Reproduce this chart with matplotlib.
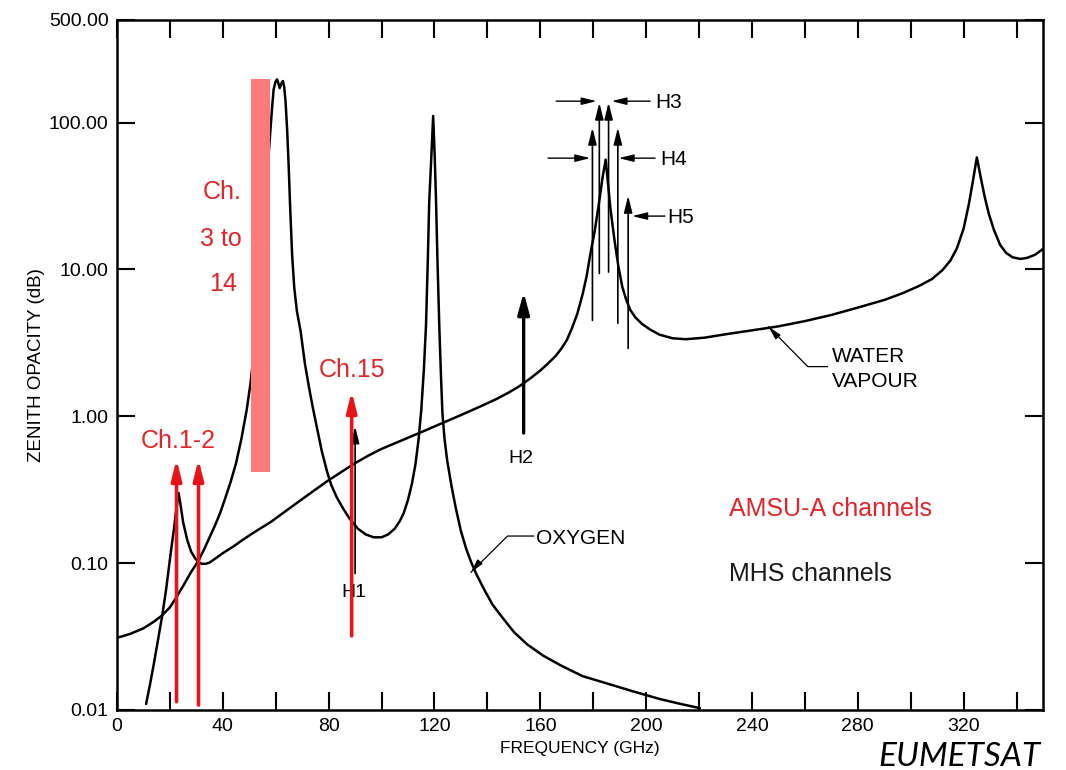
import matplotlib
matplotlib.use('Agg')
import matplotlib.pyplot as plt
from matplotlib.ticker import NullLocator

plt.rcParams['font.family'] = ['Liberation Sans', 'DejaVu Sans']

# ---------------- data ----------------
oxygen_freq = [0, 5, 10, 14, 17, 20, 22.3, 25, 28, 30.8, 33, 35, 37, 39, 41, 43, 45,
               47, 49, 50.5, 52, 54, 56, 57, 58, 58.6, 59.2, 59.9, 60.5, 61, 61.5,
               62.1, 62.7, 63.2, 63.7, 64.3, 64.9, 65.5, 66.2, 67, 68, 69.4, 71,
               72.5, 74, 75.5, 77.4, 79.4, 81, 83.1, 85.5, 88, 91, 94, 97, 100,
               102.5, 105, 107, 108.4, 110, 111.5, 112.8, 114, 115, 116, 116.8,
               117.5, 118, 118.8, 119.5, 120.1, 120.6, 121.1, 121.8, 122.4, 123,
               123.8, 124.8, 126.5, 128, 130, 132, 134, 136, 139, 142, 145.5, 150,
               155, 161, 168, 176, 185, 195, 205, 213, 220.3]
oxygen_val = [0.031, 0.033, 0.036, 0.040, 0.044, 0.050, 0.058, 0.070, 0.087, 0.104,
              0.125, 0.15, 0.18, 0.22, 0.28, 0.36, 0.48,
              0.7, 1.1, 1.7, 3.0, 7.0, 25, 50, 90, 125, 168, 190, 197, 185, 172,
              185, 192, 175, 140, 90, 50, 25, 12.5, 7.5, 5.2, 3.8, 2.3,
              1.6, 1.15, 0.85, 0.58, 0.42, 0.34, 0.28, 0.235, 0.20, 0.172, 0.157, 0.15, 0.15,
              0.157, 0.172, 0.195, 0.22, 0.27, 0.35, 0.47, 0.7, 1.1, 2.1, 4.2,
              12, 28.7, 58, 111, 58, 28.7, 12, 4.2, 2.0, 1.05,
              0.7, 0.5, 0.33, 0.24, 0.165, 0.125, 0.10, 0.083, 0.065, 0.052, 0.043, 0.034,
              0.028, 0.0235, 0.020, 0.017, 0.0152, 0.0134, 0.0119, 0.011, 0.0103]

water_freq = [11, 12.5, 14, 15.5, 17, 18.5, 19.5, 20.5, 21.5, 22.5, 23.3, 24, 25, 26.5,
              28, 29.5, 30.8, 32, 33.5, 35, 37, 40, 44, 48, 52, 58, 65, 72, 79.3, 85,
              90, 95, 100, 108, 115, 123, 130, 137, 143, 148, 152, 156, 160, 163, 166,
              168, 170, 172, 174, 176, 177.5, 179, 180.5, 182, 183.5, 184.7, 185.5,
              186.5, 188, 189.5, 191, 192.5, 194, 196, 198.5, 201.5, 205, 210, 215,
              222, 230, 240, 250, 260, 270, 280, 290, 297, 303, 308, 312, 315, 317.5,
              320, 322, 323.5, 325, 326.5, 328, 329.5, 331.5, 333.8, 336, 338.5,
              341.5, 344, 347, 350]
water_val = [0.011, 0.015, 0.021, 0.030, 0.043, 0.065, 0.09, 0.125, 0.17, 0.24, 0.30,
             0.25, 0.19, 0.145, 0.12, 0.108, 0.102, 0.099, 0.099, 0.101, 0.107, 0.117,
             0.13, 0.146, 0.163, 0.19, 0.235, 0.29, 0.36, 0.42, 0.48, 0.54, 0.60, 0.69,
             0.78, 0.90, 1.02, 1.16, 1.30, 1.45, 1.6, 1.8, 2.05, 2.3, 2.6, 2.9, 3.3,
             4.0, 5.0, 6.8, 9.0, 13, 18, 27, 42, 56, 40, 26, 16, 10.5, 7.6, 6.2, 5.3,
             4.7, 4.25, 3.9, 3.6, 3.4, 3.35, 3.43, 3.62, 3.85, 4.1, 4.45, 4.9, 5.5,
             6.2, 6.9, 7.7, 8.6, 9.9, 11.5, 14, 19, 28, 40, 58, 42, 31, 24, 18.5,
             14.7, 13.0, 12.1, 11.8, 12.0, 12.6, 13.8]

# AMSU-A channels (red)
amsu_arrow_freq = [22.5, 30.8, 88.7]
amsu_arrow_bottom = [0.0114, 0.0108, 0.032]
amsu_arrow_top = [0.51, 0.51, 1.48]
amsu_band_freq = [50.5, 58.0]          # Ch. 3 to 14
amsu_band_val = [0.42, 197]

# MHS channels (black)
mhs_names = ['H1', 'H2', 'H3', 'H3', 'H4', 'H4', 'H5']
mhs_freq = [90.0, 153.7, 182.3, 185.8, 179.7, 189.3, 193.2]
mhs_bottom = [0.085, 0.77, 9.4, 9.6, 4.5, 4.3, 2.9]
mhs_top = [0.855, 7.0, 137, 137, 92.5, 92.5, 31.8]

x_ticks = list(range(0, 341, 20))
x_labels = [str(v) if v % 40 == 0 else '' for v in x_ticks]
y_ticks = [0.01, 0.1, 1, 10, 100, 500]
y_labels = ['0.01', '0.10', '1.00', '10.00', '100.00', '500.00']

RED = '#e8141c'
RED_TXT = '#e0252b'

# ---------------- figure ----------------
fig = plt.figure(figsize=(10.66, 7.7), dpi=100)
ax = fig.add_axes([117 / 1066, 60 / 770, 926 / 1066, 690 / 770])
ax.set_yscale('log')
ax.set_xlim(0, 350)
ax.set_ylim(0.01, 500)

ax.plot(oxygen_freq, oxygen_val, color='black', lw=1.8, zorder=3,
        solid_joinstyle='round', solid_capstyle='round')
ax.plot(water_freq, water_val, color='black', lw=1.8, zorder=3,
        solid_joinstyle='round', solid_capstyle='round')

# AMSU-A band for channels 3-14
ax.bar((amsu_band_freq[0] + amsu_band_freq[1]) / 2, amsu_band_val[1] - amsu_band_val[0],
       bottom=amsu_band_val[0], width=amsu_band_freq[1] - amsu_band_freq[0],
       color='#ff7b7b', edgecolor='none', zorder=4)

# red arrows
for f, b, t in zip(amsu_arrow_freq, amsu_arrow_bottom, amsu_arrow_top):
    ax.annotate('', xy=(f, t), xytext=(f, b),
                arrowprops=dict(arrowstyle='-|>,head_length=1.2,head_width=0.3',
                                color=RED, lw=2.6, shrinkA=0, shrinkB=0,
                                mutation_scale=10), zorder=5)

# MHS arrows
for i, (f, b, t) in enumerate(zip(mhs_freq, mhs_bottom, mhs_top)):
    if mhs_names[i] == 'H2':
        style = '-|>,head_length=1.3,head_width=0.35'
        lw = 2.4
    else:
        style = '-|>,head_length=1.0,head_width=0.25'
        lw = 1.2
    ax.annotate('', xy=(f, t), xytext=(f, b),
                arrowprops=dict(arrowstyle=style, color='black', lw=lw,
                                shrinkA=0, shrinkB=0, mutation_scale=10), zorder=4.5)

# horizontal pointers for H3, H4, H5
pointers = [((166, 140), (181.3, 140)), ((201.5, 140), (186.9, 140)),
            ((162.9, 57.3), (178.9, 57.3)), ((203.4, 57.3), (189.6, 57.3)),
            ((207.1, 23.1), (194.7, 23.1))]
for (x0, y0), (x1, y1) in pointers:
    ax.annotate('', xy=(x1, y1), xytext=(x0, y0),
                arrowprops=dict(arrowstyle='-|>,head_length=0.9,head_width=0.22',
                                color='black', lw=1.0, shrinkA=0, shrinkB=0,
                                mutation_scale=10))

lab_kw = dict(fontsize=15, color='black')
ax.text(203.4, 137, 'H3', ha='left', va='center', **lab_kw)
ax.text(205.4, 56, 'H4', ha='left', va='center', **lab_kw)
ax.text(208.0, 22.7, 'H5', ha='left', va='center', **lab_kw)
ax.text(89.6, 0.063, 'H1', ha='center', va='center', fontsize=14)
ax.text(152.6, 0.52, 'H2', ha='center', va='center', fontsize=14)

# curve labels with leader lines
ax.plot([157.5, 147.6, 133.8], [0.153, 0.153, 0.0867], color='black', lw=0.9)
ax.annotate('', xy=(133.8, 0.0867), xytext=(136.5, 0.099),
            arrowprops=dict(arrowstyle='-|>,head_length=0.8,head_width=0.2',
                            color='black', lw=0.9, shrinkA=0, shrinkB=0, mutation_scale=10))
ax.text(158.5, 0.147, 'OXYGEN', ha='left', va='center', **lab_kw)

ax.plot([268.5, 261.1, 246.3], [2.18, 2.18, 4.07], color='black', lw=0.9)
ax.annotate('', xy=(246.3, 4.07), xytext=(249.0, 3.6),
            arrowprops=dict(arrowstyle='-|>,head_length=0.8,head_width=0.2',
                            color='black', lw=0.9, shrinkA=0, shrinkB=0, mutation_scale=10))
ax.text(270.2, 2.55, 'WATER', ha='left', va='center', **lab_kw)
ax.text(270.2, 1.73, 'VAPOUR', ha='left', va='center', **lab_kw)

# red channel labels
rk = dict(color=RED_TXT, fontsize=18)
ax.text(23.3, 0.68, 'Ch.1-2', ha='center', va='center', **rk)
ax.text(89.0, 2.08, 'Ch.15', ha='center', va='center', **rk)
ax.text(39.6, 33.5, 'Ch.', ha='center', va='center', **rk)
ax.text(39.3, 16.1, '3 to', ha='center', va='center', **rk)
ax.text(40.0, 7.98, '14', ha='center', va='center', **rk)
ax.text(231.4, 0.234, 'AMSU-A channels', ha='left', va='center', **rk)
ax.text(231.4, 0.085, 'MHS channels', ha='left', va='center', color='#1a1a1a', fontsize=18)

# axes styling
ax.set_xticks(x_ticks)
ax.set_xticklabels(x_labels)
ax.set_yticks(y_ticks)
ax.set_yticklabels(y_labels)
ax.yaxis.set_minor_locator(NullLocator())
ax.tick_params(direction='in', length=13, width=1.5, top=True, right=True,
               labelsize=14, pad=6)
for s in ax.spines.values():
    s.set_linewidth(1.8)

ax.set_xlabel('FREQUENCY (GHz)', fontsize=12.5, labelpad=4)
ax.set_ylabel('ZENITH OPACITY (dB)', fontsize=13.5, labelpad=3)

fig.text(1040 / 1066, 4 / 770, 'EUMETSAT', ha='right', va='baseline',
         fontsize=24, style='italic', family=['Lato', 'DejaVu Sans'])

fig.savefig('out.png', dpi=100)
